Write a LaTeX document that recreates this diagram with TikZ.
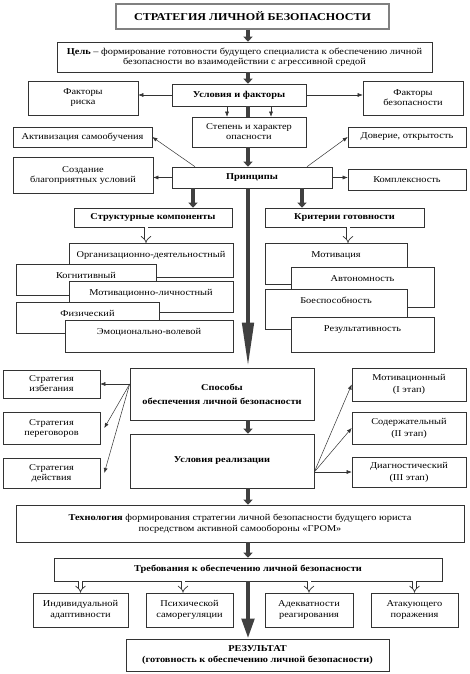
\documentclass[tikz,border=0pt]{standalone}
\usepackage{fontspec}
\setmainfont[FakeStretch=1.15]{Liberation Serif}
\usetikzlibrary{arrows.meta}

\begin{document}
\begin{tikzpicture}[x=1pt,y=-1pt]
\tikzstyle{box}=[draw=black!80,fill=white,line width=0.6pt,inner sep=1pt,align=center,font=\fontsize{9}{10}\selectfont]
\tikzstyle{layer}=[draw=black!80,fill=white,line width=0.6pt,inner xsep=0pt,inner ysep=0pt,anchor=north,text height=14pt,font=\fontsize{9}{10}\selectfont]
\tikzstyle{pointer}=[draw=black!80,line width=0.5pt,-{Latex[length=5pt,width=4pt]}]
\tikzstyle{bigline}=[draw=black!75,line width=4pt]
\tikzstyle{bigarrow}=[draw=black!75,line width=4pt,-{Triangle[length=5pt,width=9pt]}]
\tikzstyle{longarrow}=[draw=black!75,line width=4.5pt,-{Triangle[length=45pt,width=11pt]}]
\tikzstyle{endarrow}=[draw=black!75,line width=4.5pt,-{Triangle[length=20pt,width=12pt]}]
\tikzstyle{hollow}=[draw=black!80,double=white,double distance=3pt,line width=0.7pt,-{Implies}]

\useasboundingbox (0,0) rectangle (469,674);
\coordinate (axis) at (248,0);

\node[box,draw=black!50,line width=2pt,minimum width=273pt,minimum height=25pt,font=\fontsize{10.5}{12}\selectfont\bfseries] (title) at (252.5,16.5) {СТРАТЕГИЯ ЛИЧНОЙ БЕЗОПАСНОСТИ};
\node[box,minimum width=375pt,minimum height=30pt] (goal) at (244.5,57) {\textbf{Цель} -- формирование готовности будущего специалиста к обеспечению личной\\безопасности во взаимодействии с агрессивной средой};

\node[box,minimum width=134pt,minimum height=22pt,font=\fontsize{9}{10}\selectfont\bfseries] (cond) at (239,95) {Условия и факторы};
\node[box,minimum width=110pt,minimum height=34pt] (riskf) at (83,98) {Факторы\\риска};
\node[box,minimum width=100pt,minimum height=34pt] (safef) at (413,98) {Факторы\\безопасности};
\node[box,minimum width=114pt,minimum height=30pt] (degree) at (249,132) {Степень и характер\\опасности};
\node[box,minimum width=139pt,minimum height=20pt] (selfl) at (82.5,137) {Активизация самообучения};
\node[box,minimum width=140pt,minimum height=36pt] (favor) at (83,175) {Создание\\благоприятных условий};
\node[box,minimum width=160pt,minimum height=21pt,font=\fontsize{9}{10}\selectfont\bfseries] (princ) at (252,177.5) {Принципы};
\node[box,minimum width=118pt,minimum height=20pt] (trust) at (407,137) {Доверие, открытость};
\node[box,minimum width=118pt,minimum height=21pt] (compl) at (407,179.5) {Комплексность};
\node[box,minimum width=158pt,minimum height=19pt,font=\fontsize{9}{10}\selectfont\bfseries] (struct) at (153,217.5) {Структурные компоненты};
\node[box,minimum width=159pt,minimum height=19pt,font=\fontsize{9}{10}\selectfont\bfseries] (crit) at (344.5,217.5) {Критерии готовности};

\node[layer,minimum width=164pt,text depth=20pt] (org) at (151,243) {Организационно-деятельностный};
\node[layer,minimum width=140pt,text depth=17pt] (cogn) at (86,264) {Когнитивный};
\node[layer,minimum width=164pt,text depth=17pt] (motl) at (151,281) {Мотивационно-личностный};
\node[layer,minimum width=143pt,text depth=17pt] (phys) at (87.5,302) {Физический};
\node[layer,minimum width=168pt,text depth=18pt] (emot) at (149,320) {Эмоционально-волевой};

\node[layer,minimum width=142pt,text depth=27pt] (motv) at (336,243) {Мотивация};
\node[layer,minimum width=143pt,text depth=26pt] (auto) at (362.5,267) {Автономность};
\node[layer,minimum width=142pt,text depth=26pt] (comb) at (336,289) {Боеспособность};
\node[layer,minimum width=143pt,text depth=21pt] (resl) at (362.5,317) {Результативность};

\node[box,minimum width=184pt,minimum height=52pt,font=\fontsize{9}{14}\selectfont\bfseries] (meth) at (222,394) {Способы\\обеспечения личной безопасности};
\node[box,minimum width=184pt,minimum height=54pt,font=\fontsize{9}{10}\selectfont\bfseries] (real) at (222,461) {Условия реализации};
\node[box,minimum width=97pt,minimum height=28pt] (avoid) at (51.5,384) {Стратегия\\избегания};
\node[box,minimum width=97pt,minimum height=32pt] (negot) at (51.5,428) {Стратегия\\переговоров};
\node[box,minimum width=97pt,minimum height=30pt] (act) at (51.5,473) {Стратегия\\действия};
\node[box,minimum width=114pt,minimum height=33pt,font=\fontsize{9}{12}\selectfont] (stage1) at (409,384.5) {Мотивационный\\(I этап)};
\node[box,minimum width=114pt,minimum height=32pt,font=\fontsize{9}{12}\selectfont] (stage2) at (409,428) {Содержательный\\(II этап)};
\node[box,minimum width=114pt,minimum height=30pt,font=\fontsize{9}{12}\selectfont] (stage3) at (409,472) {Диагностический\\(III этап)};

\node[box,minimum width=448pt,minimum height=37pt,font=\fontsize{9}{11}\selectfont] (tech) at (240,523.5) {\textbf{Технология} формирования стратегии личной безопасности будущего юриста\\посредством активной самообороны «ГРОМ»};
\node[box,minimum width=388pt,minimum height=23pt,font=\fontsize{9}{10}\selectfont\bfseries] (req) at (248,569.5) {Требования к обеспечению личной безопасности};
\node[box,minimum width=95pt,minimum height=34pt,font=\fontsize{9}{11}\selectfont] (ind) at (80.5,610) {Индивидуальной\\адаптивности};
\node[box,minimum width=87pt,minimum height=34pt,font=\fontsize{9}{11}\selectfont] (psy) at (189.5,610) {Психической\\саморегуляции};
\node[box,minimum width=88pt,minimum height=34pt,font=\fontsize{9}{11}\selectfont] (adeq) at (309,610) {Адекватности\\реагирования};
\node[box,minimum width=87pt,minimum height=34pt,font=\fontsize{9}{11}\selectfont] (atk) at (414.5,610) {Атакующего\\поражения};
\node[box,minimum width=263pt,minimum height=32pt,font=\fontsize{9}{11}\selectfont\bfseries] (res) at (257.5,655) {РЕЗУЛЬТАТ\\(готовность к обеспечению личной безопасности)};

\draw[bigarrow] (title.south -| axis) -- (goal.north -| axis);
\draw[bigarrow] (goal.south -| axis) -- (cond.north -| axis);
\draw[pointer] (cond.west) -- (riskf.east |- cond.west);
\draw[pointer] (cond.east) -- (safef.west |- cond.east);
\draw[pointer] ([xshift=-12pt]cond.south) -- ([xshift=-22pt]degree.north);
\draw[pointer] ([xshift=32pt]cond.south) -- ([xshift=22pt]degree.north);
\draw[bigline] (cond.south -| axis) -- (degree.north -| axis);
\draw[bigarrow] (degree.south -| axis) -- (princ.north -| axis);

\draw[pointer] ([xshift=-57pt]princ.north) -- (selfl.east);
\draw[pointer] ([xshift=55pt]princ.north) -- (trust.west);
\draw[pointer] (princ.west) -- (favor.east |- princ.west);
\draw[pointer] (princ.east) -- (compl.west |- princ.east);
\draw[bigarrow] ([xshift=-59pt]princ.south) -- ([xshift=40pt]struct.north);
\draw[bigarrow] ([xshift=50pt]princ.south) -- ([xshift=-42.5pt]crit.north);
\draw[longarrow] (princ.south -| axis) -- (meth.north -| axis);

\draw[hollow] ([xshift=-7pt]struct.south) -- ([xshift=-5pt]org.north);
\draw[hollow] ([xshift=3.5pt]crit.south) -- ([xshift=12pt]motv.north);

\draw[pointer] (meth.west |- avoid.east) -- (avoid.east);
\draw[pointer] (meth.west |- avoid.east) -- ([xshift=4pt]negot.east);
\draw[pointer] (meth.west |- avoid.east) -- ([xshift=4pt]act.east);
\draw[bigarrow] (meth.south -| axis) -- (real.north -| axis);
\draw[pointer] (real.east |- stage3.west) -- (stage1.west);
\draw[pointer] (real.east |- stage3.west) -- (stage2.west);
\draw[pointer] (real.east |- stage3.west) -- (stage3.west);

\draw[bigarrow] (real.south -| axis) -- (tech.north -| axis);
\draw[bigarrow] (tech.south -| axis) -- (req.north -| axis);
\draw[hollow] (ind.north |- req.south) -- (ind.north);
\draw[hollow] ([xshift=-6.5pt]psy.north |- req.south) -- ([xshift=-6.5pt]psy.north);
\draw[hollow] (adeq.north |- req.south) -- (adeq.north);
\draw[hollow] (atk.north |- req.south) -- (atk.north);
\draw[endarrow] (req.south -| axis) -- (res.north -| axis);

\end{tikzpicture}
\end{document}
